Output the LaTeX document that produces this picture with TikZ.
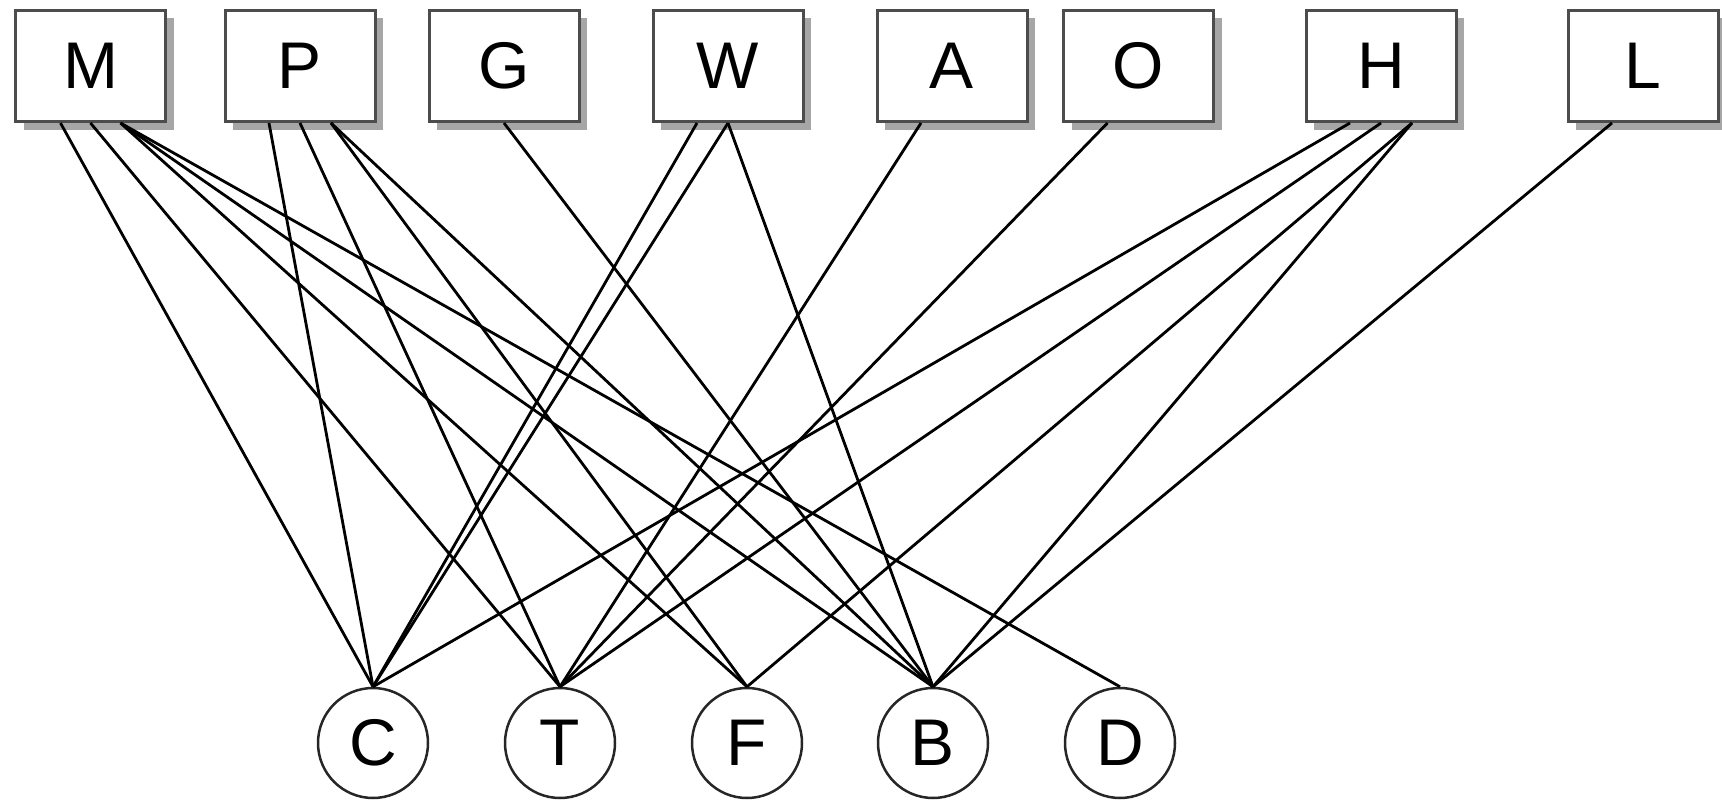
\documentclass[tikz,border=0pt]{standalone}
\usepackage{fontspec}
\setmainfont{Liberation Sans}
\usetikzlibrary{shadows}
\begin{document}
\begin{tikzpicture}[x=1pt,y=-1pt,
  box/.style={draw=black!70, line width=3pt, fill=white, minimum width=150pt, minimum height=111pt, inner sep=0pt,
    font=\fontsize{66}{66}\selectfont,
    drop shadow={shadow xshift=8pt, shadow yshift=-8pt, fill=black!35, opacity=1}},
  ball/.style={circle, draw=black!85, line width=2.5pt, fill=white, minimum size=110pt, inner sep=0pt,
    font=\fontsize{66}{66}\selectfont},
  link/.style={line width=2.8pt, draw=black}]
\useasboundingbox (0,0) rectangle (1722,800);
% top boxes
\node[box] (M) at (90.5,66) {M};
\node[box] (P) at (300,66) {P};
\node[box] (G) at (504,66) {G};
\node[box] (W) at (728,66) {W};
\node[box] (A) at (952,66) {A};
\node[box] (O) at (1138.5,66) {O};
\node[box] (H) at (1381,66) {H};
\node[box] (L) at (1643,66) {L};
% bottom circles
\node[ball] (C) at (373,743) {C};
\node[ball] (T) at (560,743) {T};
\node[ball] (F) at (747,743) {F};
\node[ball] (B) at (933,743) {B};
\node[ball] (D) at (1120,743) {D};
% connectors
\draw[link] ([xshift=-30pt]M.south) -- (C.north);
\draw[link] (M.south) -- (T.north);
\draw[link] ([xshift=30pt]M.south) -- (F.north);
\draw[link] ([xshift=30pt]M.south) -- (B.north);
\draw[link] ([xshift=30pt]M.south) -- (D.north);
\draw[link] ([xshift=-31pt]P.south) -- (C.north);
\draw[link] (P.south) -- (T.north);
\draw[link] ([xshift=31pt]P.south) -- (F.north);
\draw[link] ([xshift=31pt]P.south) -- (B.north);
\draw[link] (G.south) -- (B.north);
\draw[link] ([xshift=-31pt]W.south) -- (C.north);
\draw[link] (W.south) -- (C.north);
\draw[link] (W.south) -- (B.north);
\draw[link] ([xshift=-31pt]A.south) -- (T.north);
\draw[link] ([xshift=-31pt]O.south) -- (T.north);
\draw[link] ([xshift=-31pt]H.south) -- (C.north);
\draw[link] (H.south) -- (T.north);
\draw[link] ([xshift=31pt]H.south) -- (F.north);
\draw[link] ([xshift=31pt]H.south) -- (B.north);
\draw[link] ([xshift=-31pt]L.south) -- (B.north);
\end{tikzpicture}
\end{document}
